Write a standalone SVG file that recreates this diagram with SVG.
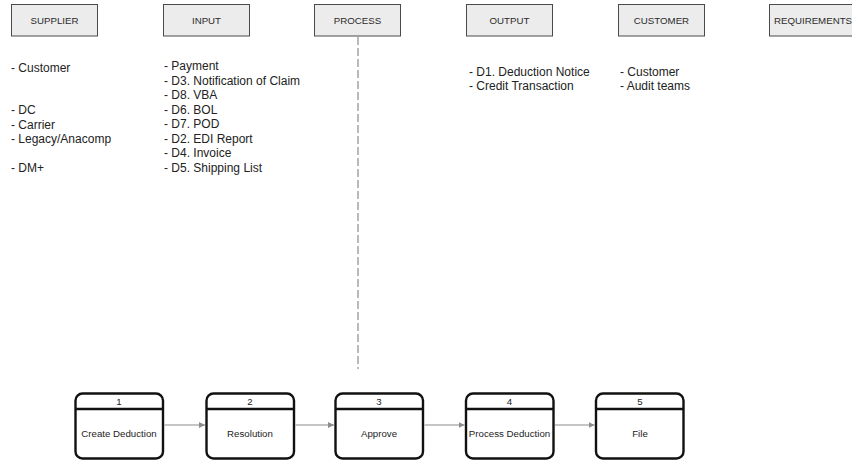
<svg xmlns="http://www.w3.org/2000/svg" width="852" height="461" viewBox="0 0 852 461">
  <style>
    .hdr rect { fill: #ececec; stroke: #4a4a4a; stroke-width: 1; }
    .hdr text { font-family: "Liberation Sans", Arial, sans-serif; font-size: 9.7px; fill: #2a2a2a; text-anchor: middle; }
    .list { font-family: "Liberation Sans", Arial, sans-serif; font-size: 12px; fill: #222; }
    .step rect { fill: #fff; stroke: #111; stroke-width: 2.4; }
    .step line { stroke: #111; stroke-width: 2.4; }
    .step text { font-family: "Liberation Sans", Arial, sans-serif; font-size: 9.7px; fill: #222; text-anchor: middle; }
    .conn line { stroke: #8c8c8c; stroke-width: 1.2; }
  </style>
  <defs>
    <marker id="arrow" viewBox="0 0 10 10" refX="10" refY="5" markerWidth="6" markerHeight="6" markerUnits="userSpaceOnUse" orient="auto">
      <path d="M0,0 L10,5 L0,10 z" fill="#8c8c8c"/>
    </marker>
  </defs>
  <rect width="852" height="461" fill="#fff"/>

  <!-- column headers -->
  <g id="hdr-supplier" class="hdr"><rect x="11.5" y="4.5" width="86" height="31.5"/><text x="54.5" y="23.5">SUPPLIER</text></g>
  <g id="hdr-input" class="hdr"><rect x="163.5" y="4.5" width="86" height="31.5"/><text x="206.5" y="23.5">INPUT</text></g>
  <g id="hdr-process" class="hdr"><rect x="314.5" y="4.5" width="86" height="31.5"/><text x="357.5" y="23.5">PROCESS</text></g>
  <g id="hdr-output" class="hdr"><rect x="466.5" y="4.5" width="86" height="31.5"/><text x="509.5" y="23.5">OUTPUT</text></g>
  <g id="hdr-customer" class="hdr"><rect x="618.5" y="4.5" width="86" height="31.5"/><text x="661.5" y="23.5">CUSTOMER</text></g>
  <g id="hdr-requirements" class="hdr"><rect x="769.5" y="4.5" width="86" height="31.5"/><text x="813" y="23.5">REQUIREMENTS</text></g>

  <!-- column contents -->
  <g id="list-supplier" class="list">
    <text x="11" y="72">- Customer</text>
    <text x="11" y="114">- DC</text>
    <text x="11" y="129">- Carrier</text>
    <text x="11" y="143">- Legacy/Anacomp</text>
    <text x="11" y="172">- DM+</text>
  </g>
  <g id="list-input" class="list">
    <text x="164" y="70">- Payment</text>
    <text x="164" y="84.5">- D3. Notification of Claim</text>
    <text x="164" y="99">- D8. VBA</text>
    <text x="164" y="113.5">- D6. BOL</text>
    <text x="164" y="128">- D7. POD</text>
    <text x="164" y="142.5">- D2. EDI Report</text>
    <text x="164" y="157">- D4. Invoice</text>
    <text x="164" y="171.5">- D5. Shipping List</text>
  </g>
  <g id="list-output" class="list">
    <text x="469" y="75.5">- D1. Deduction Notice</text>
    <text x="469" y="90">- Credit Transaction</text>
  </g>
  <g id="list-customer" class="list">
    <text x="620" y="75.5">- Customer</text>
    <text x="620" y="90">- Audit teams</text>
  </g>

  <!-- process steps -->
  <g id="step-1" class="step"><rect x="75.5" y="393.5" width="87.5" height="65" rx="7"/><line x1="75.5" y1="409" x2="163" y2="409"/><text x="119" y="405">1</text><text x="119" y="436.5">Create Deduction</text></g>
  <g id="step-2" class="step"><rect x="206.5" y="393.5" width="87.5" height="65" rx="7"/><line x1="206.5" y1="409" x2="294" y2="409"/><text x="250" y="405">2</text><text x="250" y="436.5">Resolution</text></g>
  <g id="step-3" class="step"><rect x="335.5" y="393.5" width="87.5" height="65" rx="7"/><line x1="335.5" y1="409" x2="423" y2="409"/><text x="379" y="405">3</text><text x="379" y="436.5">Approve</text></g>
  <g id="step-4" class="step"><rect x="466" y="393.5" width="87.5" height="65" rx="7"/><line x1="466" y1="409" x2="553.5" y2="409"/><text x="509.5" y="405">4</text><text x="509.5" y="436.5">Process Deduction</text></g>
  <g id="step-5" class="step"><rect x="596" y="393.5" width="87.5" height="65" rx="7"/><line x1="596" y1="409" x2="683.5" y2="409"/><text x="640" y="405">5</text><text x="640" y="436.5">File</text></g>

  <!-- connectors -->
  <g id="connectors" class="conn">
    <line x1="358" y1="37" x2="358" y2="369" stroke="#808080" stroke-width="2" stroke-dasharray="8 3"/>
    <line x1="164.5" y1="425" x2="205" y2="425" marker-end="url(#arrow)"/>
    <line x1="295.5" y1="425" x2="334" y2="425" marker-end="url(#arrow)"/>
    <line x1="424.5" y1="425" x2="464.5" y2="425" marker-end="url(#arrow)"/>
    <line x1="555" y1="425" x2="594.5" y2="425" marker-end="url(#arrow)"/>
  </g>
</svg>
